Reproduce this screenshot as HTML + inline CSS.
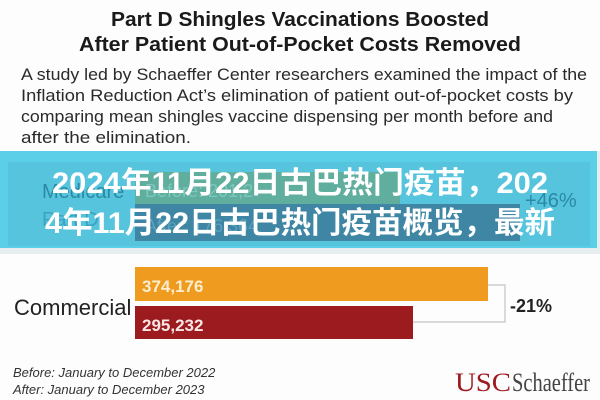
<!DOCTYPE html>
<html><head><meta charset="utf-8"><style>
html,body{margin:0;padding:0;width:600px;height:400px;overflow:hidden;background:#fff}
svg{display:block}
</style></head><body>
<svg width="600" height="400" xmlns="http://www.w3.org/2000/svg">
<rect width="600" height="400" fill="#fdfdfd"/>
<g font-family="'Liberation Sans', sans-serif" fill="#1a1a1a">
<text x="300" y="26" font-size="20" font-weight="bold" text-anchor="middle" textLength="378" lengthAdjust="spacingAndGlyphs">Part D Shingles Vaccinations Boosted</text>
<text x="300" y="51" font-size="20" font-weight="bold" text-anchor="middle" textLength="442" lengthAdjust="spacingAndGlyphs">After Patient Out-of-Pocket Costs Removed</text>
<g font-size="17" fill="#2a2a2a">
<text x="21" y="80" textLength="566" lengthAdjust="spacingAndGlyphs">A study led by Schaeffer Center researchers examined the impact of the</text>
<text x="21" y="101" textLength="552" lengthAdjust="spacingAndGlyphs">Inflation Reduction Act’s elimination of patient out-of-pocket costs by</text>
<text x="21" y="122" textLength="532" lengthAdjust="spacingAndGlyphs">comparing mean shingles vaccine dispensing per month before and</text>
<text x="21" y="143" textLength="170" lengthAdjust="spacingAndGlyphs">after the elimination.</text>
</g>
</g>
<!-- overlay band -->
<rect x="0" y="151" width="600" height="103" fill="#e6eef0"/>
<rect x="0" y="151" width="597" height="97" fill="#5ccfe8"/>
<rect x="8" y="162" width="582" height="84" fill="#56c4dd"/>
<rect x="135" y="172" width="265" height="32" fill="#5fae9e"/>
<rect x="135" y="204" width="385" height="37" fill="#3e86a3"/>
<text x="42" y="198" font-family="'Liberation Sans', sans-serif" font-size="20" fill="#2a8aa6">Medicare</text>
<text x="42" y="226" font-family="'Liberation Sans', sans-serif" font-size="20" fill="#3aa4c0">Part D</text>
<text x="145" y="197" font-family="'Liberation Sans', sans-serif" font-size="18" fill="#7fc7bd">Before: 201,2</text>
<text x="145" y="232" font-family="'Liberation Sans', sans-serif" font-size="18" fill="#5aa2bd">After: 176,364</text>
<text x="525" y="207" font-family="'Liberation Sans', sans-serif" font-size="20" fill="#2a8aa6">+46%</text>
<g font-family="'Liberation Sans','Noto Sans CJK SC',sans-serif" font-weight="bold" fill="#ffffff" font-size="30">
<text x="52" y="193" textLength="496" lengthAdjust="spacingAndGlyphs">2024年11月22日古巴热门疫苗，202</text>
<text x="45" y="233" textLength="510" lengthAdjust="spacingAndGlyphs">4年11月22日古巴热门疫苗概览，最新</text>
</g>
<!-- commercial -->
<rect x="135" y="267" width="353" height="34" fill="#ee9b1f"/>
<rect x="135" y="306" width="278" height="33" fill="#9c1b1f"/>
<path d="M488 285 H505 V322 H413" fill="none" stroke="#c4c4c4" stroke-width="1.2"/>
<g font-family="'Liberation Sans', sans-serif">
<text x="14" y="315" font-size="22" fill="#222">Commercial</text>
<text x="142" y="292" font-size="17" font-weight="bold" fill="#fdeed0">374,176</text>
<text x="142" y="331" font-size="17" font-weight="bold" fill="#fbe6e6">295,232</text>
<text x="510" y="312" font-size="18" font-weight="bold" fill="#222">-21%</text>
<text x="13" y="377" font-size="13" font-style="italic" fill="#333">Before: January to December 2022</text>
<text x="13" y="394" font-size="13" font-style="italic" fill="#333">After: January to December 2023</text>
</g>
<text x="455" y="391" font-family="'Liberation Serif', serif" font-size="26" fill="#9c1b1f" textLength="56" lengthAdjust="spacingAndGlyphs">USC</text>
<text x="512" y="391" font-family="'Liberation Serif', serif" font-size="26" fill="#444" textLength="78" lengthAdjust="spacingAndGlyphs">Schaeffer</text>
</svg>
</body></html>
